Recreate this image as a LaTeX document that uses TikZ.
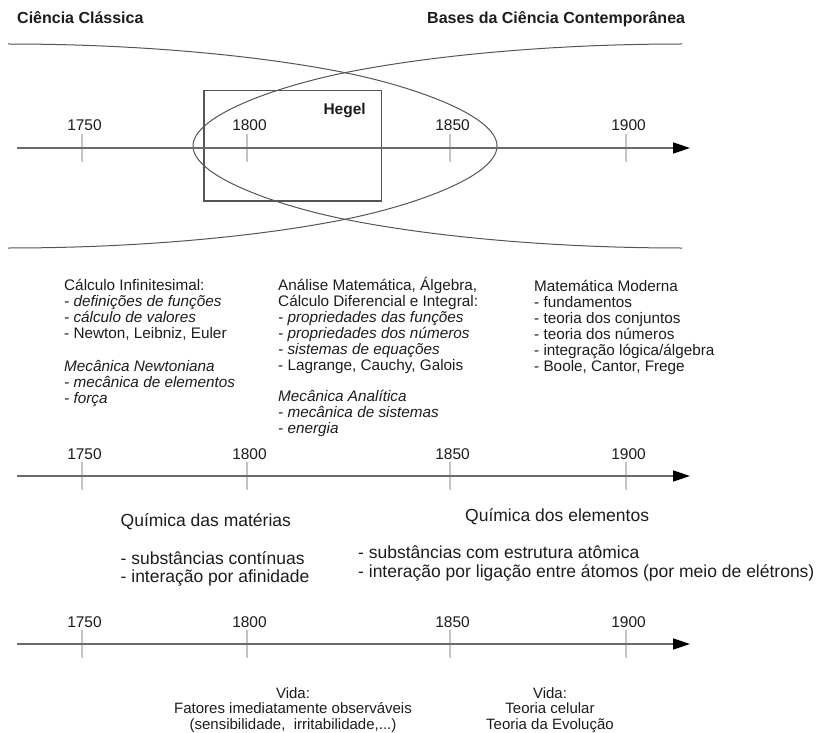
\documentclass[tikz,border=0pt]{standalone}
\usepackage{fontspec}
\setmainfont{Liberation Sans}
\usetikzlibrary{arrows.meta}
\definecolor{axisc}{HTML}{6A6A6A}
\definecolor{tickc}{HTML}{C4C4C4}
\definecolor{curvec}{HTML}{555555}
\definecolor{textc}{HTML}{1C1C1C}
\begin{document}
\begin{tikzpicture}[x=1pt,y=-1pt,
  title/.style={anchor=base west, inner sep=0pt, text=textc, font=\fontsize{16}{18}\selectfont\bfseries},
  year/.style={anchor=base, inner sep=0pt, text=textc, font=\fontsize{15.5}{17}\selectfont},
  txt/.style={anchor=base west, inner sep=0pt, text=textc, font=\fontsize{15.3}{16}\selectfont},
  itxt/.style={txt, font=\fontsize{15.3}{16}\selectfont\itshape},
  chem/.style={anchor=base west, inner sep=0pt, text=textc, font=\fontsize{17.5}{19}\selectfont},
  vida/.style={anchor=base, inner sep=0pt, text=textc, font=\fontsize{15}{16}\selectfont},
  axisline/.style={draw=axisc, line width=1.5pt, -{Triangle[length=17pt,width=11pt,fill=black,color=black]}},
  tickline/.style={draw=tickc, line width=1.4pt},
  curve/.style={draw=curvec, line width=1pt},
  hegelbox/.style={draw=curvec, line width=1.1pt}]
\useasboundingbox (0,0) rectangle (816,733);

% titles
\node[title] (tl) at (17,24) {Ciência Clássica};
\node[title] (tr) at (427,24) {Bases da Ciência Contemporânea};

% crossing curves
\draw[curve] (8,44) .. controls (150,44) and (270,57.5) .. (345,72.7)
  .. controls (410,85.7) and (497,115) .. (497,146)
  .. controls (497,177) and (410,206.3) .. (345,219.3)
  .. controls (270,234.5) and (150,248) .. (8,248);
\draw[curve] (682,44) .. controls (540,44) and (420,57.5) .. (345,72.7)
  .. controls (280,85.7) and (193,115) .. (193,146)
  .. controls (193,177) and (280,206.3) .. (345,219.3)
  .. controls (420,234.5) and (540,248) .. (682,248);

% Hegel box
\coordinate (hb1) at (204,90.7);
\coordinate (hb2) at (381.7,201);
\draw[hegelbox] (hb1) rectangle (hb2);
\node[anchor=base west, inner sep=0pt, text=textc, font=\fontsize{15.5}{17}\selectfont\bfseries] (hegel) at (323.3,115) {Hegel};

% timelines
\foreach \ax/\ay in {1/148, 2/476, 3/644} {
  \foreach \yr/\tx in {1750/82, 1800/247, 1850/450, 1900/626} {
    \coordinate (t\ax-\yr) at (\tx,\ay);
    \draw[tickline] ([yshift=14pt]t\ax-\yr) -- ([yshift=-14pt]t\ax-\yr);
    \node[year] (y\ax-\yr) at ([xshift=2.5pt,yshift=17pt]t\ax-\yr) {\yr};
  }
  \coordinate (s\ax) at (17,\ay);
  \coordinate (e\ax) at (690,\ay);
  \draw[axisline] (s\ax) -- (e\ax);
}

% block 1
\node[txt]  (b1a) at (64,290) {Cálculo Infinitesimal:};
\node[itxt] (b1b) at (64,306) {- definições de funções};
\node[itxt] (b1c) at (64,322) {- cálculo de valores};
\node[txt]  (b1d) at (64,338) {- Newton, Leibniz, Euler};
\node[itxt] (b1e) at (64,371) {Mecânica Newtoniana};
\node[itxt] (b1f) at (64,387) {- mecânica de elementos};
\node[itxt] (b1g) at (64,403) {- força};

% block 2
\node[txt]  (b2a) at (278,290) {Análise Matemática, Álgebra,};
\node[txt]  (b2b) at (278,306) {Cálculo Diferencial e Integral:};
\node[itxt] (b2c) at (278,322) {- propriedades das funções};
\node[itxt] (b2d) at (278,338) {- propriedades dos números};
\node[itxt] (b2e) at (278,354) {- sistemas de equações};
\node[txt]  (b2f) at (278,370) {- Lagrange, Cauchy, Galois};
\node[itxt] (b2g) at (278,401) {Mecânica Analítica};
\node[itxt] (b2h) at (278,417) {- mecânica de sistemas};
\node[itxt] (b2i) at (278,433) {- energia};

% block 3
\node[txt] (b3a) at (534,291.5) {Matemática Moderna};
\node[txt] (b3b) at (534,307.5) {- fundamentos};
\node[txt] (b3c) at (534,323.5) {- teoria dos conjuntos};
\node[txt] (b3d) at (534,339.5) {- teoria dos números};
\node[txt] (b3e) at (534,355.5) {- integração lógica/álgebra};
\node[txt] (b3f) at (534,371.5) {- Boole, Cantor, Frege};

% chemistry
\node[chem] (c1a) at (120.5,526.5) {Química das matérias};
\node[chem] (c1b) at (120.5,564) {- substâncias contínuas};
\node[chem] (c1c) at (120.5,582.5) {- interação por afinidade};
\node[chem] (c2a) at (465,521) {Química dos elementos};
\node[chem] (c2b) at (358,558) {- substâncias com estrutura atômica};
\node[chem] (c2c) at (358,577.5) {- interação por ligação entre átomos (por meio de elétrons)};

% life
\node[vida] (v1a) at (293,698) {Vida:};
\node[vida] (v1b) at (293,713.5) {Fatores imediatamente observáveis};
\node[vida] (v1c) at (293,729) {(sensibilidade,\ \ irritabilidade,...)};
\node[vida] (v2a) at (550,698) {Vida:};
\node[vida] (v2b) at (550,713.5) {Teoria celular};
\node[vida] (v2c) at (550,729) {Teoria da Evolução};
\end{tikzpicture}
\end{document}
